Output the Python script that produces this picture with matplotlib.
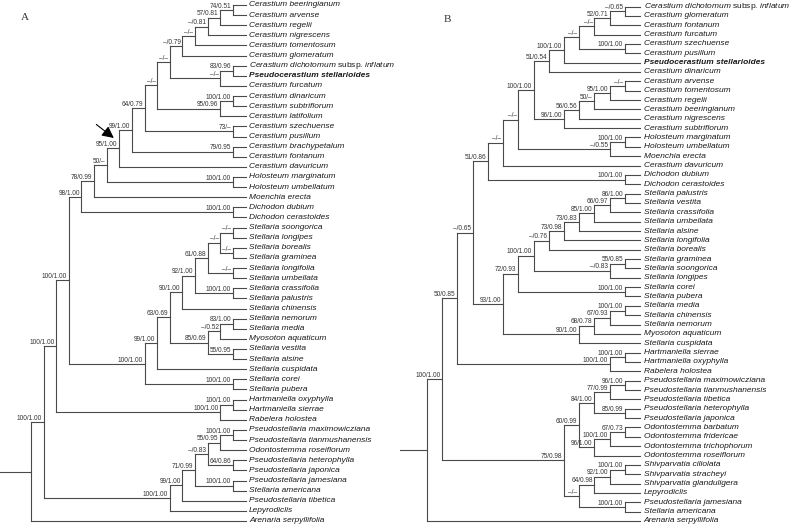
import matplotlib
matplotlib.use("Agg")
import matplotlib.pyplot as plt
from matplotlib.collections import LineCollection

plt.rcParams['font.family'] = ['Liberation Sans', 'DejaVu Sans']
plt.rcParams['mathtext.fontset'] = 'custom'
plt.rcParams['mathtext.it'] = 'Liberation Sans:italic'
plt.rcParams['mathtext.rm'] = 'Liberation Sans'

# --- arbres (topologie + soutiens ML/BI), ordre de haut en bas ---
tree_a = (
    "(((((" "(((((" "(((((" "(("
    "Cerastium beeringianum,Cerastium arvense)74/0.51,Cerastium regelii)57/0.81,"
    "Cerastium nigrescens)–/0.81,Cerastium tomentosum)–/–,Cerastium glomeratum)–/0.79,"
    "((Cerastium dichotomum subsp. inflatum,Pseudocerastium stellarioides)83/0.96,Cerastium furcatum)–/–)–/–,"
    "((Cerastium dinaricum,Cerastium subtriflorum)100/1.00,Cerastium latifolium)95/0.96)–/–,"
    "(Cerastium szechuense,Cerastium pusillum)73/–)64/0.79,"
    "(Cerastium brachypetalum,Cerastium fontanum)79/0.95)99/1.00,Cerastium davuricum)95/1.00,"
    "(Holosteum marginatum,Holosteum umbellatum)100/1.00)50/–,Moenchia erecta)78/0.99,"
    "(Dichodon dubium,Dichodon cerastoides)100/1.00)98/1.00,"
    "(((((" "((("
    "Stellaria soongorica,Stellaria longipes)–/–,(Stellaria borealis,Stellaria graminea)–/–)–/–,"
    "(Stellaria longifolia,Stellaria umbellata)–/–)61/0.88,(Stellaria crassifolia,Stellaria palustris)100/1.00)92/1.00,"
    "Stellaria chinensis)90/1.00,(((Stellaria nemorum,Stellaria media)83/1.00,Myosoton aquaticum)–/0.52,"
    "(Stellaria vestita,Stellaria alsine)55/0.95)85/0.69)63/0.69,Stellaria cuspidata)99/1.00,"
    "(Stellaria corei,Stellaria pubera)100/1.00)100/1.00)100/1.00,"
    "((Hartmaniella oxyphylla,Hartmaniella sierrae)100/1.00,Rabelera holostea)100/1.00)100/1.00,"
    "(((((" "("
    "Pseudostellaria maximowicziana,Pseudostellaria tianmushanensis)100/1.00,Odontostemma roseiflorum)55/0.95,"
    "(Pseudostellaria heterophylla,Pseudostellaria japonica)64/0.86)–/0.83,"
    "(Pseudostellaria jamesiana,Stellaria americana)100/1.00)71/0.99,Pseudostellaria tibetica)99/1.00,"
    "Lepyrodiclis)100/1.00)100/1.00,Arenaria serpyllifolia)"
)

tree_b = (
    "(((((" "(((((" "(((("
    "Cerastium dichotomum subsp. inflatum,Cerastium glomeratum)–/0.65,Cerastium fontanum)52/0.71,"
    "Cerastium furcatum)–/–,(Cerastium szechuense,Cerastium pusillum)100/1.00)–/–,"
    "Pseudocerastium stellarioides)100/1.00,Cerastium dinaricum)51/0.54,"
    "(((((Cerastium arvense,Cerastium tomentosum)–/–,Cerastium regelii)95/1.00,Cerastium beeringianum)50/–,"
    "Cerastium nigrescens)56/0.56,Cerastium subtriflorum)96/1.00)100/1.00,"
    "((Holosteum marginatum,Holosteum umbellatum)100/1.00,Moenchia erecta)–/0.55)–/–,Cerastium davuricum)–/–,"
    "(Dichodon dubium,Dichodon cerastoides)100/1.00)51/0.86,"
    "(((((" "(((("
    "Stellaria palustris,Stellaria vestita)86/1.00,Stellaria crassifolia)66/0.97,Stellaria umbellata)85/1.00,"
    "Stellaria alsine)73/0.83,Stellaria longifolia)73/0.98,Stellaria borealis)–/0.76,"
    "((Stellaria graminea,Stellaria soongorica)55/0.85,Stellaria longipes)–/0.83)100/1.00,"
    "(Stellaria corei,Stellaria pubera)100/1.00)72/0.93,"
    "((((Stellaria media,Stellaria chinensis)100/1.00,Stellaria nemorum)67/0.93,Myosoton aquaticum)68/0.78,"
    "Stellaria cuspidata)90/1.00)93/1.00)–/0.65,"
    "((Hartmaniella sierrae,Hartmaniella oxyphylla)100/1.00,Rabelera holostea)100/1.00)50/0.85,"
    "(((((Pseudostellaria maximowicziana,Pseudostellaria tianmushanensis)96/1.00,Pseudostellaria tibetica)77/0.99,"
    "(Pseudostellaria heterophylla,Pseudostellaria japonica)85/0.99)84/1.00,"
    "(((Odontostemma barbatum,Odontostemma fridericae)67/0.73,Odontostemma trichophorum)100/1.00,"
    "Odontostemma roseiflorum)96/1.00)60/0.99,"
    "((((Shivparvatia ciliolata,Shivparvatia stracheyi)100/1.00,Shivparvatia glanduligera)92/1.00,Lepyrodiclis)64/0.98,"
    "(Pseudostellaria jamesiana,Stellaria americana)100/1.00)–/–)75/0.98)100/1.00,Arenaria serpyllifolia)"
)

bold_taxa = ['Pseudocerastium stellarioides']
panel_letters = ['A', 'B']

W, H = 789, 527
LINE_COLOR = '#4a4a4a'


def parse(s):
    pos = 0

    def node():
        nonlocal pos
        if s[pos] == '(':
            pos += 1
            kids = [node()]
            while s[pos] == ',':
                pos += 1
                kids.append(node())
            pos += 1
            start = pos
            while pos < len(s) and s[pos] not in ',()':
                pos += 1
            return {'kids': kids, 'label': s[start:pos]}
        start = pos
        while s[pos] not in ',()':
            pos += 1
        return {'kids': [], 'name': s[start:pos].strip()}

    return node()


def layout(root):
    tips = []

    def walk(n):
        if not n['kids']:
            n['y'] = len(tips)
            n['h'] = 0
            tips.append(n)
        else:
            for k in n['kids']:
                walk(k)
            n['h'] = max(k['h'] for k in n['kids']) + 1
            n['y'] = (n['kids'][0]['y'] + n['kids'][-1]['y']) / 2

    walk(root)
    depth = root['h']

    def setx(n):
        n['x'] = depth - n['h']
        for k in n['kids']:
            setx(k)

    setx(root)
    return tips, depth


def tip_text(name):
    if ' subsp. ' in name:
        a, b = name.split(' subsp. ')
        return r'$\mathit{%s}$ subsp. $\mathit{%s}$' % (a.replace(' ', r'\ '), b), 'normal'
    return name, 'italic'


def draw_tree(ax, newick, px_range, root_px, tip_px, y0_px, yn_px, stub_px):
    root = parse(newick)
    tips, depth = layout(root)
    sx = (tip_px - root_px) / depth
    sy = (yn_px - y0_px) / (len(tips) - 1)
    ax.set_xlim((px_range[0] - root_px) / sx, (px_range[1] - root_px) / sx)
    ax.set_ylim((H - y0_px) / sy, -y0_px / sy)
    ax.axis('off')

    segs = [[((stub_px - root_px) / sx, root['y']), (root['x'], root['y'])]]
    labels = []

    def rec(n):
        if not n['kids']:
            return
        segs.append([(n['x'], n['kids'][0]['y']), (n['x'], n['kids'][-1]['y'])])
        for k in n['kids']:
            segs.append([(n['x'], k['y']), (k['x'], k['y'])])
            if k['kids'] and k['label']:
                labels.append(k)
            rec(k)

    rec(root)
    ax.add_collection(LineCollection(segs, colors=LINE_COLOR, linewidths=0.8,
                                     capstyle='projecting'))

    for n in labels:
        ax.annotate(n['label'], xy=(n['x'], n['y']), xytext=(-1.2, 0.2),
                    textcoords='offset points', ha='right', va='bottom',
                    fontsize=4.7, color='#333333')

    for t in tips:
        txt, style = tip_text(t['name'])
        ax.annotate(txt, xy=(t['x'], t['y']), xytext=(2.6, 0), textcoords='offset points',
                    ha='left', va='center', fontsize=6, fontstyle=style, color='#1a1a1a',
                    fontweight='bold' if t['name'] in bold_taxa else 'normal')
    return root, sx, sy


fig = plt.figure(figsize=(W / 100, H / 100), dpi=100)
ax_a = fig.add_axes([0, 0, 0.5, 1])
ax_b = fig.add_axes([0.5, 0, 0.5, 1])

root_a, sxa, sya = draw_tree(ax_a, tree_a, (0, W / 2), 31, 245.5, 5, 521, 0)
root_b, sxb, syb = draw_tree(ax_b, tree_b, (W / 2, W), 427, 640, 6.5, 521, 400)

# flèche vers le noeud 95/1.00 (clade Cerastium + C. davuricum)
node = root_a['kids'][0]['kids'][0]['kids'][0]['kids'][0]['kids'][0]['kids'][0]['kids'][0]
ax_a.annotate('', xy=(node['x'] - 5.5 / sxa, node['y'] - 10.5 / sya),
              xytext=(node['x'] - 23 / sxa, node['y'] - 24 / sya),
              arrowprops=dict(arrowstyle='-|>,head_length=0.5,head_width=0.25',
                              color='black', lw=0.8, mutation_scale=14,
                              shrinkA=0, shrinkB=0))

fig.text(25 / W, 1 - 18 / H, panel_letters[0], family='Liberation Serif', fontsize=8,
         ha='center', va='center', color='#333333')
fig.text(447 / W, 1 - 20 / H, panel_letters[1], family='Liberation Serif', fontsize=8,
         ha='center', va='center', color='#333333')

fig.savefig('out.png', dpi=100, facecolor='white')
